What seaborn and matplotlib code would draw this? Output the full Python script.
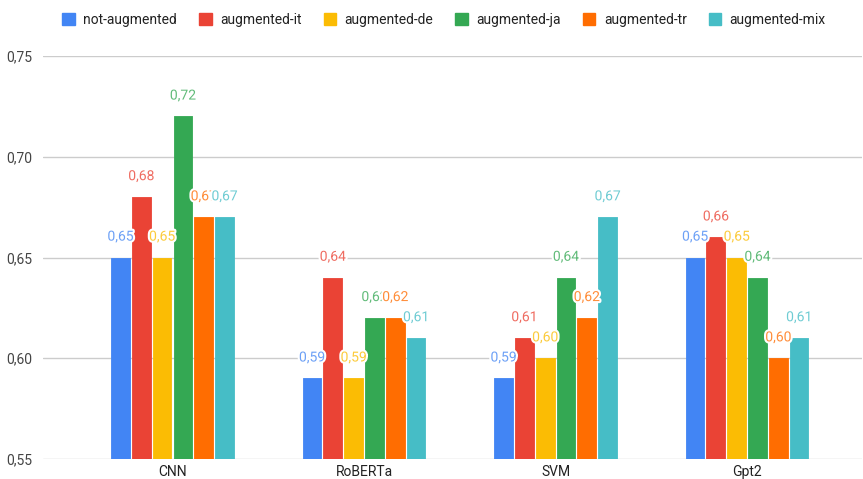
import numpy as np
import pandas as pd
import matplotlib
matplotlib.use("Agg")
import matplotlib.pyplot as plt
import matplotlib.patheffects as pe
from matplotlib.colors import to_rgb
from matplotlib.patches import Patch
import seaborn as sns

models = ["CNN", "RoBERTa", "SVM", "Gpt2"]
series = ["not-augmented", "augmented-it", "augmented-de", "augmented-ja", "augmented-tr", "augmented-mix"]
not_augmented = [0.65, 0.59, 0.59, 0.65]
augmented_it = [0.68, 0.64, 0.61, 0.66]
augmented_de = [0.65, 0.59, 0.60, 0.65]
augmented_ja = [0.72, 0.62, 0.64, 0.64]
augmented_tr = [0.67, 0.62, 0.62, 0.60]
augmented_mix = [0.67, 0.61, 0.67, 0.61]
yticks = [0.55, 0.60, 0.65, 0.70, 0.75]

colors = ["#4285F4", "#EA4335", "#FBBC04", "#34A853", "#FF6D01", "#46BDC6"]

values = [not_augmented, augmented_it, augmented_de, augmented_ja, augmented_tr, augmented_mix]
rows = []
for s, vals in zip(series, values):
    for m, v in zip(models, vals):
        rows.append({"model": m, "series": s, "value": v})
df = pd.DataFrame(rows)

sns.set_theme(style="white")
plt.rcParams["font.family"] = ["Roboto", "DejaVu Sans"]

fig = plt.figure(figsize=(8.63, 4.79), dpi=100)
ax = fig.add_axes([43 / 863, 1 - 459 / 479, (862 - 43) / 863, (459 - 56) / 479])

sns.barplot(data=df, x="model", y="value", hue="series", order=models, hue_order=series,
            palette=colors, width=0.652, gap=0.1, ax=ax, legend=False,
            saturation=1, errorbar=None)

ax.set_ylim(0.55, 0.75)
ax.set_xlim(-0.676, 3.60)
ax.set_yticks(yticks)
ax.set_yticklabels([f"{t:.2f}".replace(".", ",") for t in yticks], color="#444444", fontsize=10)
ax.tick_params(axis="y", length=0, pad=8)
ax.tick_params(axis="x", length=0, pad=4, labelsize=10, labelcolor="#222222")
ax.set_xlabel("")
ax.set_ylabel("")
ax.grid(axis="y", color="#cccccc", linewidth=1)
ax.set_axisbelow(True)
for sp in ax.spines.values():
    sp.set_visible(False)

def lighten(c, a=0.78):
    r, g, b = to_rgb(c)
    return (1 - a + a * r, 1 - a + a * g, 1 - a + a * b)

for i, cont in enumerate(ax.containers):
    lc = lighten(colors[i])
    for bar, v in zip(cont, values[i]):
        x = bar.get_x() + bar.get_width() / 2
        ax.annotate(f"{v:.2f}".replace(".", ","), (x, v), xytext=(0, 10), textcoords="offset points",
                    ha="center", va="bottom", fontsize=10, color=lc, annotation_clip=False,
                    path_effects=[pe.withStroke(linewidth=3, foreground="white")])
        bar.set_edgecolor(colors[i])
        bar.set_linewidth(0.6)
        bar.set_joinstyle("round")

handles = [Patch(facecolor=c, edgecolor=c, label=s) for c, s in zip(colors, series)]
fig.legend(handles=handles, loc="center", bbox_to_anchor=(444 / 863, 1 - 20 / 479), ncol=6,
           frameon=False, fontsize=10, handlelength=0.9, handleheight=0.9, handletextpad=0.6,
           columnspacing=1.6, labelcolor="#222222")

fig.savefig("out.png", dpi=100, facecolor="white")
